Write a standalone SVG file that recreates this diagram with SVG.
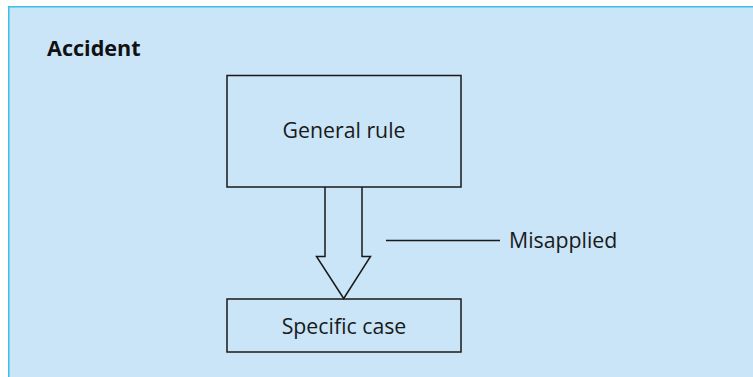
<svg xmlns="http://www.w3.org/2000/svg" width="753" height="377" viewBox="0 0 753 377">
<style>
.node rect{fill:none;stroke:#1a1a1a;stroke-width:1.5}
.lbl{font-family:"Open Sans","Noto Sans",sans-serif;font-size:21.3px;fill:#1a1a1a;text-anchor:middle}
.conn{fill:none;stroke:#1a1a1a;stroke-width:1.5}
</style>
<rect x="0" y="0" width="753" height="377" fill="#ffffff"/>
<rect x="8.75" y="6.75" width="760" height="380" fill="#c9e5f7" stroke="#3bbfec" stroke-width="1.5"/>
<text x="47" y="56" font-family="Open Sans, Noto Sans, sans-serif" font-weight="bold" font-size="21.6" fill="#111">Accident</text>
<g id="general-rule" class="node">
<rect x="227" y="75.5" width="234" height="111.5"/>
<text class="lbl" x="344" y="137.5">General rule</text>
</g>
<g id="specific-case" class="node">
<rect x="227" y="299" width="234" height="53"/>
<text class="lbl" x="344" y="334">Specific case</text>
</g>
<g id="connectors">
<path class="conn" d="M325,187 V256.5 H316.5 L343.7,298.5 L370.5,256.5 H362 V187"/>
<line class="conn" x1="386" y1="240.5" x2="500" y2="240.5"/>
</g>
<text class="lbl" x="509" y="248" style="text-anchor:start">Misapplied</text>
</svg>
